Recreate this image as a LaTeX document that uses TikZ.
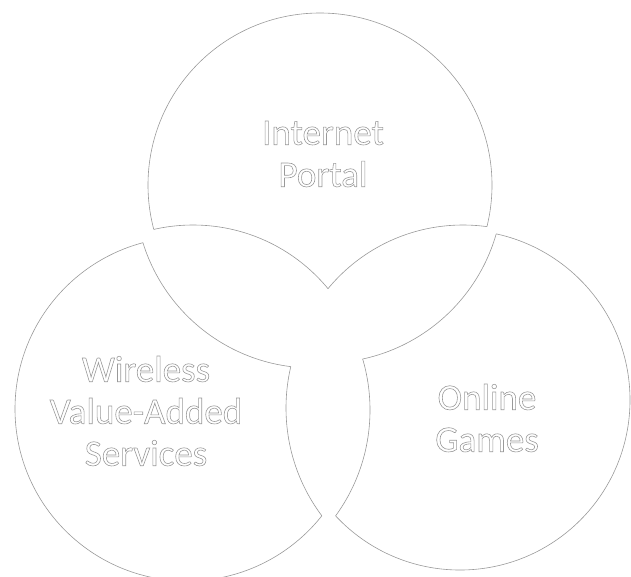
\documentclass[tikz,border=0pt]{standalone}
\usepackage{fontspec}
\setmainfont{Carlito}
\usetikzlibrary{positioning}

% clip helpers: keep the part outside / inside a circle (needs even odd rule)
\newcommand{\clipout}[2]{\clip (-20,-20) rectangle (660,610) (#1) circle[radius=#2];}
\newcommand{\clipin}[2]{\clip (#1) circle[radius=#2];}
% hollow letters
\newcommand{\hollow}[1]{\special{pdf:literal direct 1 Tr 0.6 w}#1\special{pdf:literal direct 0 Tr}}

\begin{document}
\begin{tikzpicture}[
  x=1pt, y=-1pt,
  even odd rule,
  rim/.style={draw=black!40, line width=0.6pt},
  venntext/.style={font=\fontsize{37}{42}\selectfont, align=center, text=black!40},
]

\useasboundingbox (0,0) rectangle (631,576);
\clip (0,0) rectangle (631,576);

% circle centres
\coordinate (cT) at (320,185);
\coordinate (cL) at (187,409);
\coordinate (cR) at (460,400);

% cut circles
\coordinate (tA) at (193,400);
\coordinate (tB) at (463,400);
\coordinate (lP) at (313,190);
\coordinate (lQ) at (466,408);
\coordinate (rP) at (325,185);
\coordinate (rQ) at (190,410);

% Top piece
\begin{scope}\clipout{tA}{175}\clipout{tB}{175}
  \draw[rim] (cT) circle[radius=172];
\end{scope}
\begin{scope}\clipin{cT}{172}\clipout{tB}{175}
  \draw[rim] (tA) circle[radius=175];
\end{scope}
\begin{scope}\clipin{cT}{172}\clipout{tA}{175}
  \draw[rim] (tB) circle[radius=175];
\end{scope}

% Left piece
\begin{scope}\clipout{lP}{178}\clipout{lQ}{180}
  \draw[rim] (cL) circle[radius=172];
\end{scope}
\begin{scope}\clipin{cL}{172}\clipout{lQ}{180}
  \draw[rim] (lP) circle[radius=178];
\end{scope}
\begin{scope}\clipin{cL}{172}\clipout{lP}{178}
  \draw[rim] (lQ) circle[radius=180];
\end{scope}

% Right piece
\begin{scope}\clipout{rP}{178}\clipout{rQ}{180}
  \draw[rim] (cR) circle[radius=170];
\end{scope}
\begin{scope}\clipin{cR}{170}\clipout{rQ}{180}
  \draw[rim] (rP) circle[radius=178];
\end{scope}
\begin{scope}\clipin{cR}{170}\clipout{rP}{178}
  \draw[rim] (rQ) circle[radius=180];
\end{scope}

% Labels
\node[venntext] (portal) at (323,154) {\hollow{Internet}\\\hollow{Portal}};
\node[venntext] (wireless) at (146,411) {\hollow{Wireless}\\\hollow{Value-Added}\\\hollow{Services}};
\node[venntext] (games) at (487,418) {\hollow{Online}\\\hollow{Games}};

\end{tikzpicture}
\end{document}
